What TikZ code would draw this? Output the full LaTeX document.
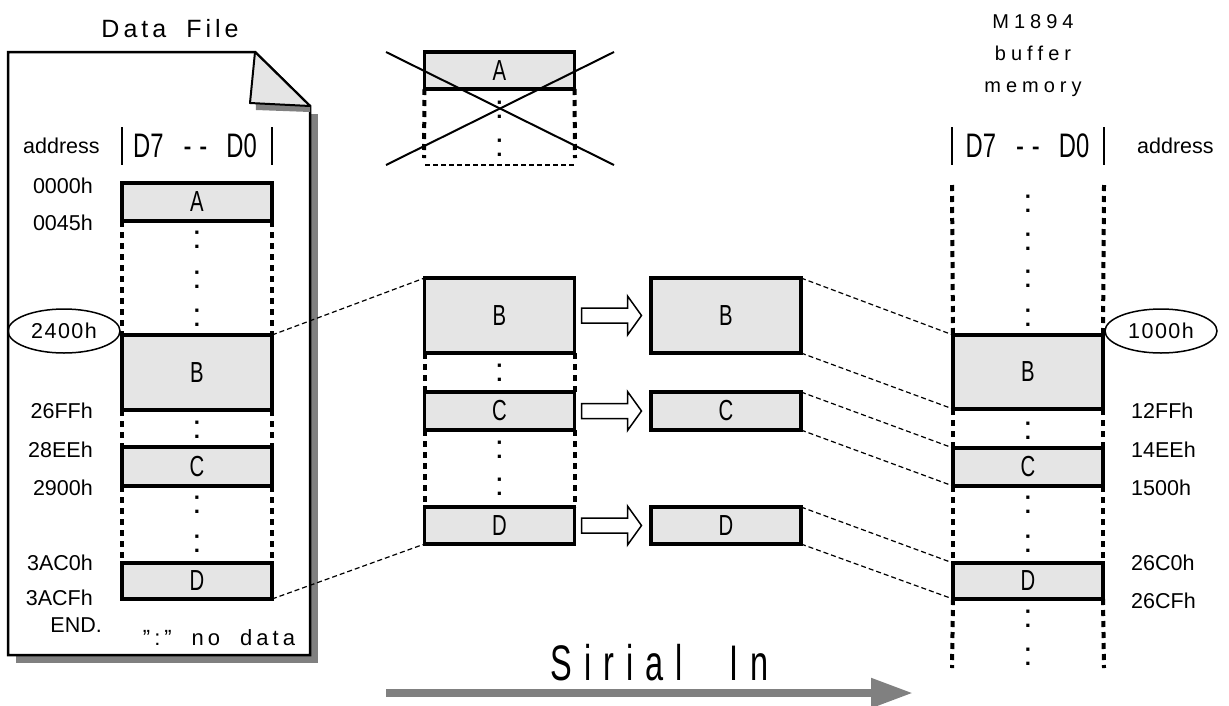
\documentclass[tikz,border=0pt]{standalone}
\usepackage{fontspec}
\setmainfont{Liberation Sans}
\newfontfamily\narrowfont[FakeStretch=0.7]{Liberation Sans}
\newfontfamily\sirialfont[FakeStretch=0.65]{Liberation Sans}
\usetikzlibrary{arrows.meta,calc,shapes.geometric}

\definecolor{cellgray}{gray}{0.9}
\definecolor{shadowgray}{gray}{0.5}

% Sperrsatz: Kern nach jedem Zeichen
\ExplSyntaxOn
\cs_new_protected:Npn \spread_letters:nn #1#2
  { \tl_map_inline:nn {#2} { ##1 \kern #1 } \unkern }
\cs_generate_variant:Nn \spread_letters:nn { no }
\NewDocumentCommand{\spreadtext}{m m}
  { \spread_letters:no {#1} {#2} }
\ExplSyntaxOff
\newcommand{\wgap}{\hspace{12pt}}
\newcommand{\wgapbig}{\hspace{22pt}}

\tikzset{
  cell/.style={draw, fill=cellgray, line width=3.5pt, minimum width=150pt,
    inner sep=0pt, outer sep=0pt, font=\narrowfont\fontsize{29}{31}\selectfont},
  bigcell/.style={cell, minimum height=75pt},
  smallcell/.style={cell, minimum height=38pt},
  dotline/.style={line width=4pt, dash pattern=on 6pt off 5pt},
  colon/.style={inner sep=0pt, font=\fontsize{33}{33}\selectfont},
  addr/.style={inner sep=0pt, font=\fontsize{21.5}{24}\selectfont},
  addroval/.style={ellipse, draw, line width=1.5pt, minimum width=112pt,
    minimum height=44pt, inner sep=0pt, font=\fontsize{21.5}{24}\selectfont},
  link/.style={line width=1.2pt, dash pattern=on 5pt off 3pt},
  bitsline/.style={font=\narrowfont\fontsize{34}{38}\selectfont, anchor=base, inner sep=0pt},
  titletext/.style={font=\fontsize{25}{30}\selectfont, anchor=base, inner sep=0pt}
}

% hollow arrow between two cells
\newcommand{\hollowarrow}[2]{%
  \draw[line width=1.5pt, fill=white, line join=miter]
    ($(#1.east)+(7,-7.5)$) -- ++(46,0) -- ++(0,-12) -- ++(14,19.5)
    -- ++(-14,19.5) -- ++(0,-12) -- ++(-46,0) -- cycle;}

\begin{document}
\begin{tikzpicture}[x=1pt,y=-1pt]

% Spaltenmitten
\def\colL{197}
\def\colM{499.5}
\def\colC{726}
\def\colR{1028}

\useasboundingbox (0,0) rectangle (1229,705);

% ------------------- Data File -------------------
\fill[shadowgray] (16,114) rectangle (318,663);
\draw[line width=2.5pt, fill=white] (8,52) -- (255,52) -- (310,106) -- (310,655) -- (8,655) -- cycle;
\fill[shadowgray] (255,52) -- (256,110) -- (310,112) -- (310,106) -- cycle;
\draw[line width=2pt, fill=cellgray, line join=round] (255,52) -- (250,103) -- (310,106) -- cycle;
\node[titletext] (dftitle) at (170,37) {\spreadtext{4pt}{Data\wgap File}};

% Kopf
\node[addr, anchor=base west] (laddr) at (23,153) {address};
\draw[line width=2pt] (122,127) -- (122,165);
\draw[line width=2pt] (272,127) -- (272,165);
\node[bitsline] (lbits) at (195,157) {D7\hspace{20pt}-\hspace{8pt}-\hspace{19pt}D0};

% Zellen
\node[smallcell] (lA) at (\colL,202) {A};
\node[bigcell]   (lB) at (\colL,372.5) {B};
\node[smallcell, minimum height=39pt] (lC) at (\colL,466.5) {C};
\node[smallcell, minimum height=36pt] (lD) at (\colL,581) {D};

\foreach \t/\b in {lA/lB, lB/lC, lC/lD} {
  \draw[dotline] (\t.south west) -- (\b.north west);
  \draw[dotline] (\t.south east) -- (\b.north east);
}
\foreach \y in {240,280,318,430,505,544}
  \node[colon] at (\colL,\y) {:};

% Adressen
\node[addr, anchor=base east] (a0000) at (93,193) {0000h};
\node[addr, anchor=base east] (a0045) at (93,230) {0045h};
\node[addroval] (a2400) at (64,331) {\spreadtext{1.5pt}{2400h}};
\node[addr, anchor=base east] (a26FF) at (93,418) {26FFh};
\node[addr, anchor=base east] (a28EE) at (93,457) {28EEh};
\node[addr, anchor=base east] (a2900) at (93,495) {2900h};
\node[addr, anchor=base east] (a3AC0) at (93,570) {3AC0h};
\node[addr, anchor=base east] (a3ACF) at (93,605) {3ACFh};
\node[addr, anchor=base east] (aend) at (102,632) {END.};
\node[titletext, font=\fontsize{22}{26}\selectfont] (nodata) at (219,645) {\spreadtext{4pt}{":"\wgap no\wgap data}};

% ------------------- gestrichenes A -------------------
\node[smallcell, minimum height=37pt] (xA) at (\colM,70.5) {A};
\coordinate (xSW) at (424,158);
\coordinate (xSE) at (575,158);
\draw[dotline] (xA.south west) -- (xSW);
\draw[dotline] (xA.south east) -- (xSE);
\draw[line width=1.5pt, dash pattern=on 5pt off 3pt] (425,165) -- (575,165);
\foreach \y in {110,148}
  \node[colon] at (\colM,\y) {:};
\draw[line width=2pt] (386,52) -- (614,165);
\draw[line width=2pt] (386,165) -- (614,52);

% ------------------- Mitte -------------------
\node[bigcell]   (mB) at (\colM,315.5) {B};
\node[smallcell] (mC) at (\colM,411) {C};
\node[smallcell, minimum height=37pt] (mD) at (\colM,525.5) {D};
\foreach \t/\b in {mB/mC, mC/mD} {
  \draw[dotline] (\t.south west) -- (\b.north west);
  \draw[dotline] (\t.south east) -- (\b.north east);
}
\foreach \y in {373,450,487}
  \node[colon] at (\colM,\y) {:};

\node[bigcell]   (cB) at (\colC,315.5) {B};
\node[smallcell] (cC) at (\colC,411) {C};
\node[smallcell, minimum height=37pt] (cD) at (\colC,525.5) {D};

\hollowarrow{mB}{cB}
\hollowarrow{mC}{cC}
\hollowarrow{mD}{cD}

\draw[link] (lB.north east) -- (mB.north west);
\draw[link] (lD.south east) -- (mD.south west);

% ------------------- M1894 Puffer -------------------
\foreach \txt [count=\i] in {M1894,buffer,memory}
  \node[titletext, font=\fontsize{20}{24}\selectfont] (mt\i) at (1033,28+32*\i-32) {\spreadtext{5pt}{\txt}};

\node[addr, anchor=base west] (raddr) at (1137,153) {address};
\draw[line width=2pt] (952,127) -- (952,165);
\draw[line width=2pt] (1104,127) -- (1104,165);
\node[bitsline] (rbits) at (1027.5,157) {D7\hspace{20pt}-\hspace{8pt}-\hspace{19pt}D0};

\node[bigcell, minimum height=74pt] (rB) at (\colR,372) {B};
\node[smallcell] (rC) at (\colR,467) {C};
\node[smallcell, minimum height=36pt] (rD) at (\colR,581) {D};

\coordinate (rTopW) at (952,185);
\coordinate (rTopE) at (1104,185);
\coordinate (rBotW) at (952,668);
\coordinate (rBotE) at (1104,668);
\draw[dotline] (rTopW) -- (rB.north west);
\draw[dotline] (rTopE) -- (rB.north east);
\foreach \t/\b in {rB/rC, rC/rD} {
  \draw[dotline] (\t.south west) -- (\b.north west);
  \draw[dotline] (\t.south east) -- (\b.north east);
}
\draw[dotline] (rD.south west) -- (rBotW);
\draw[dotline] (rD.south east) -- (rBotE);
\foreach \y in {204,242,279,318,431,505,544,619,657}
  \node[colon] at (\colR,\y) {:};

\node[addroval] (a1000) at (1161,331) {\spreadtext{1.5pt}{1000h}};
\node[addr, anchor=base west] (a12FF) at (1131,418) {12FFh};
\node[addr, anchor=base west] (a14EE) at (1131,457) {14EEh};
\node[addr, anchor=base west] (a1500) at (1131,495) {1500h};
\node[addr, anchor=base west] (a26C0) at (1131,570) {26C0h};
\node[addr, anchor=base west] (a26CF) at (1131,608) {26CFh};

\foreach \k in {B,C,D} {
  \draw[link] (c\k.north east) -- (r\k.north west);
  \draw[link] (c\k.south east) -- (r\k.south west);
}

% ------------------- Sirial In -------------------
\node[anchor=base, inner sep=0pt, font=\sirialfont\fontsize{50}{52}\selectfont] (sirial) at (659.5,680) {\spreadtext{12pt}{Sirial\wgapbig In}};
\coordinate (sin0) at (386,693);
\coordinate (sin1) at (913,693);
\draw[line width=8pt, shadowgray, -{Triangle[length=42pt,width=28pt]}] (sin0) -- (sin1);

\end{tikzpicture}
\end{document}
